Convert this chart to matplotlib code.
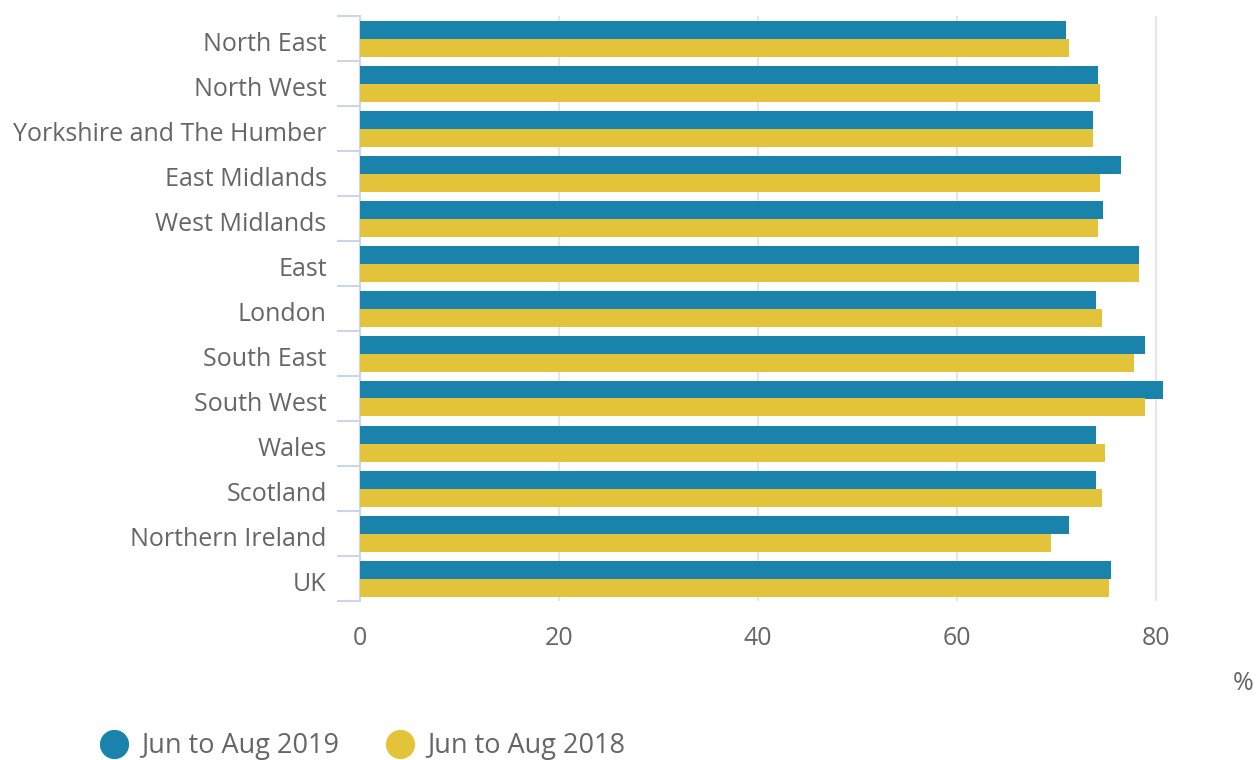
import numpy as np
import matplotlib.pyplot as plt
import matplotlib.transforms as mtransforms
from matplotlib.lines import Line2D

regions = ['North East', 'North West', 'Yorkshire and The Humber', 'East Midlands',
           'West Midlands', 'East', 'London', 'South East', 'South West', 'Wales',
           'Scotland', 'Northern Ireland', 'UK']
jun_aug_2019 = [71.0, 74.2, 73.7, 76.5, 74.7, 78.3, 74.0, 78.9, 80.7, 74.0, 74.0, 71.3, 75.5]
jun_aug_2018 = [71.3, 74.4, 73.7, 74.4, 74.2, 78.3, 74.6, 77.8, 78.9, 74.9, 74.6, 69.5, 75.3]
xticks = [0, 20, 40, 60, 80]

blue = '#1a83ab'
yellow = '#e3c33a'
text_col = '#666666'
axis_col = '#ccd6eb'

plt.rcParams['font.family'] = ['Open Sans', 'DejaVu Sans']

fig = plt.figure(figsize=(12.57, 7.6), dpi=100)
ax = fig.add_axes([360 / 1257, 1 - 601 / 760, 895 / 1257, 585 / 760])

y = np.arange(len(regions))
h = 0.4
ax.barh(y - h / 2, jun_aug_2019, height=h, color=blue, zorder=3)
ax.barh(y + h / 2, jun_aug_2018, height=h, color=yellow, zorder=3)

ax.set_ylim(len(regions) - 0.5, -0.5)
ax.set_xlim(0, 90)

# grid lines
for v in xticks[1:]:
    ax.axvline(v, color='#e6e6e6', lw=1.5, zorder=1)

for s in ['top', 'right', 'bottom']:
    ax.spines[s].set_visible(False)
ax.spines['left'].set_color(axis_col)
ax.spines['left'].set_linewidth(1.5)

ax.set_yticks(y)
ax.set_yticklabels(regions, fontsize=18, color=text_col)
ax.set_yticks(np.arange(len(regions) + 1) - 0.5, minor=True)
ax.tick_params(axis='y', which='major', length=0, pad=24)
ax.tick_params(axis='y', which='minor', length=16.5, width=1.5, color=axis_col)
shift = mtransforms.ScaledTranslation(0, -3 / 100, fig.dpi_scale_trans)
for lab in ax.get_yticklabels():
    lab.set_transform(lab.get_transform() + shift)

ax.set_xticks(xticks)
ax.set_xticklabels([str(v) for v in xticks], fontsize=18, color=text_col)
ax.tick_params(axis='x', length=0, pad=18)

fig.text(1254 / 1257, 1 - 683 / 760, '%', fontsize=18, color=text_col,
         ha='right', va='center')

handles = [Line2D([], [], marker='o', ls='', markersize=20, color=blue),
           Line2D([], [], marker='o', ls='', markersize=20, color=yellow)]
leg = fig.legend(handles, ['Jun to Aug 2019', 'Jun to Aug 2018'],
                 loc='center left', bbox_to_anchor=(84 / 1257, 1 - 746 / 760),
                 ncol=2, frameon=False, fontsize=19.5, handletextpad=0.4,
                 columnspacing=1.65, handlelength=1.2, borderpad=0)
for t in leg.get_texts():
    t.set_color(text_col)

fig.savefig('out.png', dpi=100)
